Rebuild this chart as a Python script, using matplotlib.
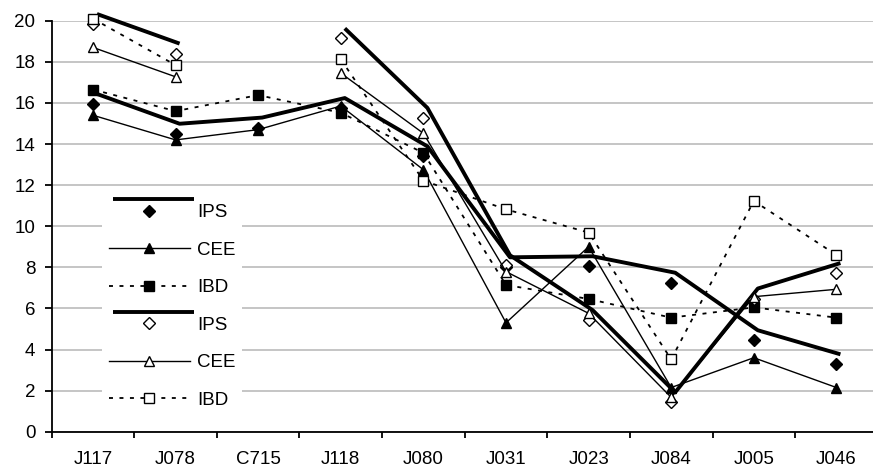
import numpy as np
import matplotlib
matplotlib.use('Agg')
import matplotlib.pyplot as plt
import matplotlib.transforms as mtransforms
from matplotlib.legend_handler import HandlerLine2D, HandlerTuple

plt.rcParams['font.family'] = ['Liberation Sans', 'DejaVu Sans']

sites = ['J117', 'J078', 'C715', 'J118', 'J080', 'J031', 'J023', 'J084', 'J005', 'J046']

# first campaign (filled markers)
ips_1 = [15.95, 14.5, 14.8, 15.75, 13.4, 8.0, 8.05, 7.25, 4.45, 3.28]
cee_1 = [15.4, 14.2, 14.7, 15.85, 12.75, 5.3, 9.0, 2.15, 3.6, 2.15]
ibd_1 = [16.65, 15.6, 16.38, 15.52, 13.57, 7.14, 6.46, 5.55, 6.05, 5.55]

# second campaign (open markers), C715 not sampled
ips_2 = [19.84, 18.4, np.nan, 19.14, 15.27, 8.1, 5.43, 1.43, 6.48, 7.72]
cee_2 = [18.7, 17.27, np.nan, 17.45, 14.52, 7.79, 5.76, 1.67, 6.57, 6.93]
ibd_2 = [20.1, 17.84, np.nan, 18.12, 12.22, 10.82, 9.69, 3.52, 11.23, 8.6]


class ShiftedLine(HandlerLine2D):
    """Legend handler that draws the line nudged by (dx, dy) points."""
    def __init__(self, dx, dy, **kw):
        super().__init__(**kw)
        self.dx, self.dy = dx, dy

    def create_artists(self, legend, orig_handle, xdescent, ydescent,
                       width, height, fontsize, trans):
        arts = super().create_artists(legend, orig_handle, xdescent, ydescent,
                                      width, height, fontsize, trans)
        off = mtransforms.Affine2D().translate(self.dx, self.dy) + trans
        for a in arts:
            a.set_transform(off)
        return arts


fs = 13.5
fig = plt.figure(figsize=(8.73, 4.73), dpi=100)
ax = fig.add_axes([0.0592, 0.0873, 0.9462, 0.8689])
x = np.arange(len(sites))

# IPS lines are drawn slightly above/right of their markers
shift = mtransforms.offset_copy(ax.transData, fig=fig, x=4, y=10, units='dots')

thick = dict(color='black', lw=2.8, solid_capstyle='butt', clip_on=False)
thin = dict(color='black', lw=1.0, clip_on=False)
dots = dict(color='black', lw=1.3, ls=(0, (2.2, 3.6)), clip_on=False)
mk = dict(ms=6.5, mec='black', mew=1.0)

handles = []
for ips, cee, ibd, fill in [(ips_1, cee_1, ibd_1, 'black'), (ips_2, cee_2, ibd_2, 'white')]:
    ln_ips, = ax.plot(x, ips, transform=shift, **thick)
    mk_ips, = ax.plot(x, ips, ls='none', marker='D', mfc=fill, clip_on=False,
                      **dict(mk, ms=6.0))
    ln_cee, = ax.plot(x, cee, marker='^', mfc=fill, **dict(mk, ms=7.5), **thin)
    ln_ibd, = ax.plot(x, ibd, marker='s', mfc=fill, **mk, **dots)
    handles += [(ln_ips, mk_ips), ln_cee, ln_ibd]

labels = ['IPS', 'CEE', 'IBD', 'IPS', 'CEE', 'IBD']
hmap = {tuple: HandlerTuple(ndivide=1, pad=0)}
for h in handles[0::3]:
    hmap[h[0]] = ShiftedLine(2.9, 8.0)

leg = ax.legend(handles, labels, handler_map=hmap, loc='upper left',
                bbox_to_anchor=(102 / 873, 1 - 197 / 473), bbox_transform=fig.transFigure,
                borderaxespad=0, borderpad=0.37, fontsize=fs, handlelength=4.32,
                handletextpad=0.37, labelspacing=1.09, fancybox=False,
                frameon=True, framealpha=1, facecolor='white', edgecolor='none')

ax.set_xlim(-0.5, 9.5)
ax.set_ylim(0, 20)
ax.set_yticks(range(0, 21, 2))
ax.set_xticks(x, sites)
ax.set_xticks(np.arange(-0.5, 10, 1), minor=True)

ax.yaxis.grid(True, color='#c0c0c0', lw=1.3)
ax.set_axisbelow(True)
for s in ['top', 'right']:
    ax.spines[s].set_visible(False)
for s in ['left', 'bottom']:
    ax.spines[s].set_linewidth(1.3)

ax.tick_params(axis='x', which='major', length=0, pad=14, labelsize=fs)
ax.tick_params(axis='x', which='minor', length=4, width=1.3, direction='out')
ax.tick_params(axis='y', length=4.7, width=1.3, pad=7, labelsize=fs)

fig.savefig('out.png', dpi=100)
